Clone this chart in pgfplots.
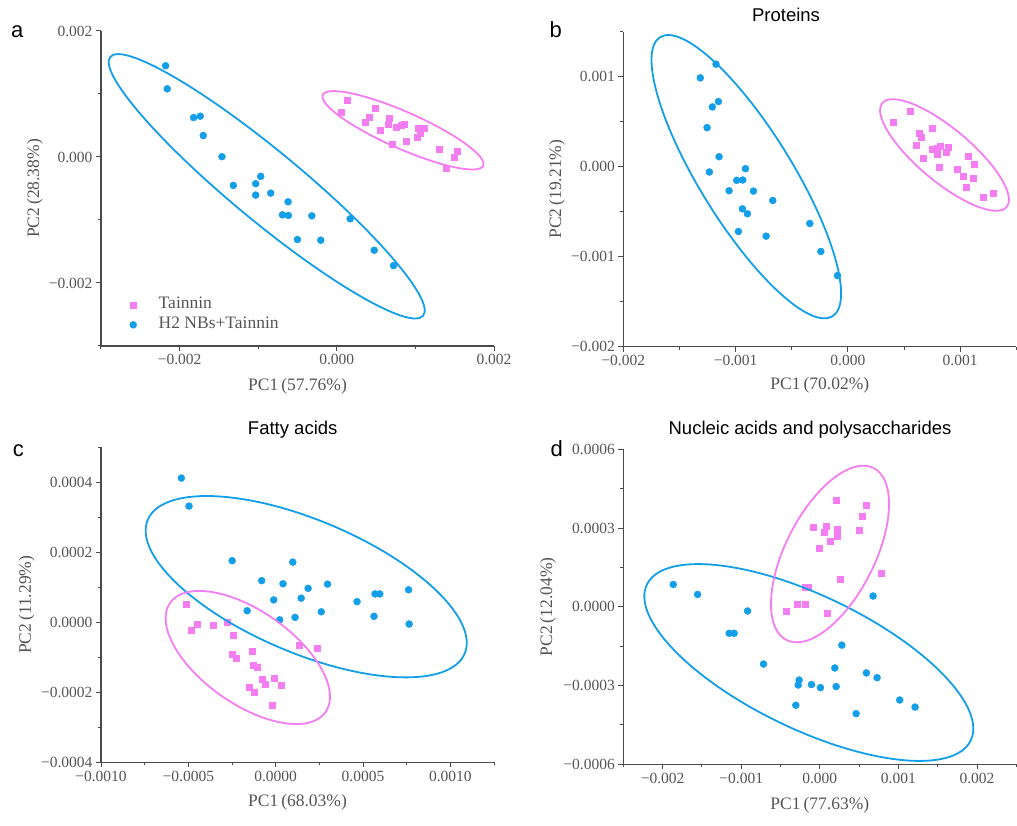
\documentclass[border=0pt]{standalone}
\usepackage{fontspec}
\setmainfont{Liberation Serif}
\newfontfamily\sansf{Liberation Sans}
\usepackage{pgfplots}
\pgfplotsset{compat=1.18}

\definecolor{dotblue}{RGB}{18,158,232}
\definecolor{sqpink}{RGB}{245,125,242}
\definecolor{txtgray}{RGB}{85,85,85}
\definecolor{axgray}{RGB}{75,75,75}

\pgfplotsset{
  pcastyle/.style={
    scale only axis, width=393pt, height=315pt,
    axis lines=left, axis line style={-, axgray, line width=1.2pt},
    tick align=outside, major tick length=5pt, minor tick length=3pt,
    tick style={axgray, line width=1pt},
    scaled ticks=false,
    tick label style={font=\fontsize{15.5}{18}\selectfont, text=txtgray},
    label style={font=\fontsize{17.5}{20}\selectfont, text=txtgray},
    clip=false,
  },
  blues/.style={only marks, mark=*, mark size=3.5pt, color=dotblue},
  pinks/.style={only marks, mark=square*, mark size=3pt, color=sqpink},
}

\begin{document}
\begin{tikzpicture}
\useasboundingbox (0pt,0pt) rectangle (1017pt,825pt);

% ---- a ----
\begin{axis}[pcastyle, at={(101pt,479pt)}, anchor=south west,
  xmin=-0.003, xmax=0.002, ymin=-0.003, ymax=0.002,
  xtick={-0.002,0,0.002}, xticklabels={−0.002,0.000,0.002},
  ytick={-0.002,0,0.002}, yticklabels={−0.002,0.000,0.002},
  minor xtick={-0.003,-0.001,0.001}, minor ytick={-0.003,-0.001,0.001},
  xlabel={PC1\hspace{3pt}(57.76\%)}, ylabel={PC2\hspace{3pt}(28.38\%)},
  xlabel style={at={(axis description cs:0.5,-0.127)}, anchor=center},
  ylabel style={at={(axis description cs:-0.168,0.5)}, anchor=center},
  legend image code/.code={\draw[#1] plot coordinates {(0pt,0pt)};},
  legend style={at={(axis description cs:0.065,0.163)}, anchor=north west,
    draw=none, fill=none, font=\fontsize{17.5}{20}\selectfont, text=txtgray,
    nodes={inner sep=0pt, text height=12pt, text depth=4pt}, column sep=22pt, row sep=4pt},
  legend cell align=left,
]
\addplot[pinks] coordinates {
(0.000136,0.000897) (0.000051,0.000706) (0.000489,0.000770) (0.000413,0.000636)
(0.000362,0.000552) (0.000671,0.000611) (0.000650,0.000520) (0.000553,0.000430)
(0.000752,0.000468) (0.000820,0.000504) (0.000862,0.000515) (0.000701,0.000202)
(0.000888,0.000255) (0.001041,0.000452) (0.001117,0.000452) (0.001019,0.000318)
(0.001062,0.000372) (0.001308,0.000122) (0.001538,0.000091) (0.001499,0.000000)
(0.001394,-0.000185)
};
\addlegendentry{Tainnin}
\addplot[blues] coordinates {
(-0.002178,0.001448) (-0.002157,0.001082) (-0.001822,0.000626) (-0.001737,0.000647)
(-0.001699,0.000340) (-0.001461,0.000005) (-0.001316,-0.000451) (-0.001032,-0.000424)
(-0.000968,-0.000308) (-0.001032,-0.000605) (-0.000841,-0.000573) (-0.000620,-0.000711)
(-0.000692,-0.000918) (-0.000616,-0.000928) (-0.000318,-0.000934) (-0.000501,-0.001310)
(-0.000204,-0.001321) (0.000170,-0.000981) (0.000476,-0.001480) (0.000722,-0.001724)
};
\addlegendentry{H2 NBs+Tainnin}
\end{axis}

% ---- b ----
\begin{axis}[pcastyle, at={(623.3pt,478.3pt)}, anchor=south west,
  xmin=-0.002, xmax=0.0015, ymin=-0.002, ymax=0.0015,
  xtick={-0.002,-0.001,0,0.001}, xticklabels={−0.002,−0.001,0.000,0.001},
  ytick={-0.002,-0.001,0,0.001}, yticklabels={−0.002,−0.001,0.000,0.001},
  minor xtick={-0.0015,-0.0005,0.0005,0.0015}, minor ytick={-0.0015,-0.0005,0.0005,0.0015},
  xlabel={PC1\hspace{3pt}(70.02\%)}, ylabel={PC2\hspace{3pt}(19.21\%)},
  xlabel style={at={(axis description cs:0.5,-0.122)}, anchor=center},
  ylabel style={at={(axis description cs:-0.169,0.5)}, anchor=center},
]
\addplot[blues] coordinates {
(-0.001174,0.001139) (-0.001314,0.000987) (-0.001207,0.000664) (-0.001153,0.000724)
(-0.001254,0.000434) (-0.001147,0.000111) (-0.001233,-0.000059) (-0.000912,-0.000022)
(-0.000990,-0.000152) (-0.000936,-0.000148) (-0.001058,-0.000267) (-0.000841,-0.000271)
(-0.000669,-0.000375) (-0.000939,-0.000468) (-0.000895,-0.000523) (-0.000975,-0.000720)
(-0.000728,-0.000772) (-0.000339,-0.000631) (-0.000241,-0.000942) (-0.000092,-0.001210)
};
\addplot[pinks] coordinates {
(0.000555,0.000619) (0.000406,0.000497) (0.000754,0.000427) (0.000638,0.000371)
(0.000653,0.000327) (0.000609,0.000238) (0.000749,0.000193) (0.000793,0.000200)
(0.000823,0.000230) (0.000897,0.000216) (0.000793,0.000138) (0.000873,0.000156)
(0.000674,0.000089) (0.001070,0.000119) (0.001128,0.000027) (0.000816,-0.000011)
(0.000971,-0.000029) (0.001025,-0.000103) (0.001119,-0.000129) (0.001052,-0.000226)
(0.001209,-0.000344) (0.001292,-0.000292)
};
\end{axis}

% ---- c ----
\begin{axis}[pcastyle, at={(101pt,62.7pt)}, anchor=south west,
  xmin=-0.001, xmax=0.00125, ymin=-0.0004, ymax=0.0005,
  xtick={-0.001,-0.0005,0,0.0005,0.001}, xticklabels={−0.0010,−0.0005,0.0000,0.0005,0.0010},
  ytick={-0.0004,-0.0002,0,0.0002,0.0004}, yticklabels={−0.0004,−0.0002,0.0000,0.0002,0.0004},
  minor xtick={-0.00075,-0.00025,0.00025,0.00075,0.00125},
  minor ytick={-0.0003,-0.0001,0.0001,0.0003,0.0005},
  xlabel={PC1\hspace{3pt}(68.03\%)}, ylabel={PC2\hspace{3pt}(11.29\%)},
  xlabel style={at={(axis description cs:0.5,-0.128)}, anchor=center},
  ylabel style={at={(axis description cs:-0.189,0.5)}, anchor=center},
]
\addplot[blues] coordinates {
(-0.000540,0.000412) (-0.000496,0.000332) (-0.000249,0.000176) (0.000098,0.000172)
(-0.000080,0.000119) (0.000042,0.000110) (0.000186,0.000097) (0.000297,0.000109)
(-0.000011,0.000064) (0.000146,0.000069) (-0.000163,0.000033) (0.000023,0.000007)
(0.000111,0.000014) (0.000261,0.000030) (0.000466,0.000059) (0.000569,0.000081)
(0.000596,0.000081) (0.000761,0.000093) (0.000563,0.000017) (0.000764,-0.000005)
};
\addplot[pinks] coordinates {
(-0.000510,0.000052) (-0.000450,-0.000004) (-0.000485,-0.000022) (-0.000360,-0.000009)
(-0.000278,0.000001) (-0.000241,-0.000037) (-0.000134,-0.000083) (-0.000249,-0.000091)
(-0.000224,-0.000103) (-0.000128,-0.000123) (-0.000107,-0.000128) (0.000134,-0.000064)
(0.000238,-0.000074) (-0.000077,-0.000162) (-0.000010,-0.000160) (-0.000061,-0.000176)
(0.000033,-0.000179) (-0.000153,-0.000186) (-0.000121,-0.000200) (-0.000017,-0.000236)
};
\end{axis}

% ---- d ----
\begin{axis}[pcastyle, at={(623.3pt,60.7pt)}, anchor=south west,
  xmin=-0.0025, xmax=0.0025, ymin=-0.0006, ymax=0.0006,
  xtick={-0.002,-0.001,0,0.001,0.002}, xticklabels={−0.002,−0.001,0.000,0.001,0.002},
  ytick={-0.0006,-0.0003,0,0.0003,0.0006}, yticklabels={−0.0006,−0.0003,0.0000,0.0003,0.0006},
  minor xtick={-0.0025,-0.0015,-0.0005,0.0005,0.0015,0.0025},
  minor ytick={-0.00045,-0.00015,0.00015,0.00045},
  xlabel={PC1\hspace{3pt}(77.63\%)}, ylabel={PC2\hspace{3pt}(12.04\%)},
  xlabel style={at={(axis description cs:0.5,-0.129)}, anchor=center},
  ylabel style={at={(axis description cs:-0.192,0.5)}, anchor=center},
]
\addplot[blues] coordinates {
(-0.001864,0.000085) (-0.001555,0.000047) (-0.000919,-0.000016) (-0.001153,-0.000101)
(-0.001089,-0.000101) (0.000678,0.000041) (0.000280,-0.000146) (-0.000716,-0.000218)
(0.000191,-0.000233) (0.000593,-0.000252) (0.000729,-0.000270) (-0.000263,-0.000279)
(-0.000275,-0.000298) (-0.000106,-0.000296) (0.000008,-0.000308) (0.000208,-0.000304)
(-0.000305,-0.000375) (0.000462,-0.000407) (0.001017,-0.000355) (0.001212,-0.000382)
};
\addplot[pinks] coordinates {
(0.000208,0.000408) (0.000593,0.000388) (0.000538,0.000344) (-0.000081,0.000303)
(0.000076,0.000307) (0.000216,0.000294) (0.000055,0.000285) (0.000500,0.000293)
(0.000225,0.000268) (0.000127,0.000249) (-0.000013,0.000223) (0.000775,0.000128)
(0.000254,0.000104) (-0.000191,0.000076) (-0.000148,0.000075) (-0.000288,0.000009)
(-0.000182,0.000011) (-0.000424,-0.000016) (0.000097,-0.000023)
};
\end{axis}

% confidence ellipses
\begin{scope}[line width=1.8pt]
\draw[dotblue, shift={(266.7pt,638.7pt)}, rotate=-39.6] (0,0) ellipse [x radius=203pt, y radius=35pt];
\draw[sqpink, shift={(403pt,694.7pt)}, rotate=-23.8] (0,0) ellipse [x radius=87.7pt, y radius=18.4pt];
\draw[dotblue, shift={(746.3pt,648.3pt)}, rotate=-58.3] (0,0) ellipse [x radius=164pt, y radius=46.4pt];
\draw[sqpink, shift={(944.5pt,670pt)}, rotate=-39.9] (0,0) ellipse [x radius=81pt, y radius=26.5pt];
\draw[dotblue, shift={(306.2pt,238.3pt)}, rotate=-22.9] (0,0) ellipse [x radius=172pt, y radius=66.4pt];
\draw[sqpink, shift={(247.8pt,167.5pt)}, rotate=-35.1] (0,0) ellipse [x radius=95pt, y radius=46.5pt];
\draw[dotblue, shift={(808.8pt,162.5pt)}, rotate=-25.7] (0,0) ellipse [x radius=179.7pt, y radius=66.7pt];
\draw[sqpink, shift={(830pt,271pt)}, rotate=63.1] (0,0) ellipse [x radius=96.4pt, y radius=44.6pt];
\end{scope}

% titles and panel letters
\begin{scope}[font=\sansf\fontsize{18.5}{22}\selectfont]
\node at (786pt,810pt) {Proteins};
\node at (292.7pt,395pt) {Fatty acids};
\node at (810pt,395.7pt) {Nucleic acids and polysaccharides};
\end{scope}
\begin{scope}[font=\sansf\fontsize{22}{26}\selectfont]
\node at (17.3pt,793.3pt) {a};
\node at (555.7pt,795pt) {b};
\node at (18.3pt,374.3pt) {c};
\node at (556.7pt,376.7pt) {d};
\end{scope}
\end{tikzpicture}
\end{document}
